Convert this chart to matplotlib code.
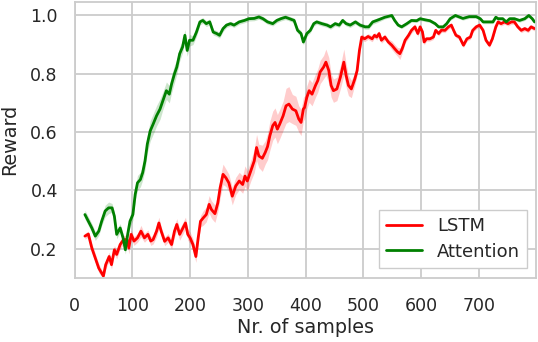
import numpy as np
import matplotlib
matplotlib.use("Agg")
import matplotlib.pyplot as plt
import seaborn as sns

sns.set_theme(style="whitegrid")
plt.rcParams['font.family'] = ['DejaVu Sans']

# ---- data ----
lstm_x = [18, 24, 30, 36, 42, 50, 54, 60, 64, 69, 73, 79, 85, 91, 94, 98, 103, 109, 115, 121,
          127, 132, 136, 142, 146, 150, 156, 162, 168, 173, 177, 182, 188, 192, 196, 200, 205, 210, 214, 218,
          223, 228, 233, 237, 243, 248, 252, 257, 262, 267, 273, 279, 285, 291, 295, 299, 305, 311, 315, 319,
          325, 330, 334, 338, 343, 347, 351, 355, 361, 366, 371, 377, 383, 388, 392, 396, 398, 402, 406, 411,
          417, 421, 425, 431, 435, 440, 444, 448, 454, 460, 466, 470, 474, 479, 485, 489, 493, 497, 502, 508,
          515, 519, 523, 527, 531, 537, 543, 549, 554, 559, 563, 567, 572, 578, 583, 589, 594, 598, 602, 605,
          609, 615, 621, 625, 630, 635, 641, 647, 652, 656, 660, 666, 673, 679, 685, 689, 695, 701, 707, 712,
          718, 723, 729, 733, 738, 744, 750, 756, 761, 767, 773, 779, 785, 790, 796]
lstm_y = [0.243, 0.250, 0.202, 0.168, 0.133, 0.106, 0.145, 0.173, 0.145, 0.196, 0.180, 0.214, 0.231, 0.231, 0.202, 0.249, 0.226, 0.237, 0.260, 0.237,
          0.249, 0.226, 0.231, 0.260, 0.288, 0.260, 0.225, 0.237, 0.214, 0.260, 0.283, 0.249, 0.272, 0.288, 0.249, 0.237, 0.214, 0.173, 0.237, 0.294,
          0.306, 0.317, 0.352, 0.334, 0.320, 0.357, 0.409, 0.455, 0.443, 0.426, 0.380, 0.415, 0.432, 0.420, 0.449, 0.432, 0.467, 0.501, 0.547, 0.518,
          0.510, 0.530, 0.550, 0.587, 0.622, 0.633, 0.610, 0.627, 0.656, 0.690, 0.696, 0.679, 0.673, 0.645, 0.633, 0.679, 0.684, 0.719, 0.742, 0.730,
          0.760, 0.777, 0.806, 0.823, 0.840, 0.811, 0.760, 0.742, 0.748, 0.788, 0.840, 0.794, 0.760, 0.748, 0.782, 0.811, 0.880, 0.926, 0.920, 0.928,
          0.920, 0.932, 0.926, 0.938, 0.915, 0.926, 0.909, 0.898, 0.886, 0.875, 0.869, 0.886, 0.915, 0.932, 0.949, 0.961, 0.938, 0.961, 0.944, 0.909,
          0.920, 0.920, 0.926, 0.949, 0.938, 0.950, 0.949, 0.961, 0.967, 0.949, 0.932, 0.926, 0.898, 0.920, 0.926, 0.949, 0.961, 0.967, 0.949, 0.915,
          0.898, 0.920, 0.961, 0.978, 0.972, 0.978, 0.972, 0.978, 0.978, 0.961, 0.949, 0.955, 0.949, 0.961, 0.955]
lstm_err = [0.01, 0.01, 0.015, 0.015, 0.015, 0.01, 0.015, 0.015, 0.015, 0.015, 0.015, 0.015, 0.015, 0.015, 0.02, 0.015, 0.015, 0.015, 0.02, 0.015,
            0.015, 0.015, 0.015, 0.02, 0.02, 0.015, 0.015, 0.015, 0.015, 0.02, 0.02, 0.02, 0.02, 0.02, 0.02, 0.02, 0.02, 0.02, 0.02, 0.02,
            0.025, 0.025, 0.03, 0.03, 0.03, 0.03, 0.035, 0.035, 0.03, 0.03, 0.03, 0.03, 0.03, 0.03, 0.035, 0.035, 0.035, 0.04, 0.045, 0.04,
            0.045, 0.04, 0.045, 0.05, 0.05, 0.05, 0.05, 0.05, 0.05, 0.06, 0.06, 0.05, 0.05, 0.045, 0.045, 0.04, 0.04, 0.04, 0.04, 0.04,
            0.04, 0.04, 0.04, 0.04, 0.045, 0.045, 0.04, 0.04, 0.04, 0.04, 0.045, 0.04, 0.035, 0.03, 0.02, 0.015, 0.015, 0.01, 0.01, 0.01,
            0.01, 0.01, 0.01, 0.01, 0.01, 0.01, 0.01, 0.015, 0.015, 0.015, 0.02, 0.015, 0.01, 0.01, 0.01, 0.01, 0.01, 0.01, 0.01, 0.01,
            0.008, 0.008, 0.008, 0.008, 0.008, 0.008, 0.008, 0.008, 0.008, 0.008, 0.008, 0.008, 0.008, 0.008, 0.008, 0.008, 0.008, 0.008, 0.008, 0.008,
            0.008, 0.008, 0.008, 0.008, 0.008, 0.008, 0.008, 0.008, 0.008, 0.008, 0.008, 0.008, 0.008, 0.008, 0.008]

att_x = [18, 24, 30, 36, 42, 47, 53, 59, 65, 69, 73, 79, 84, 88, 92, 96, 101, 105, 109, 114,
         118, 122, 126, 131, 136, 142, 148, 153, 159, 164, 168, 173, 177, 182, 187, 191, 195, 199, 205, 211,
         217, 222, 228, 234, 240, 246, 251, 257, 263, 270, 276, 285, 294, 302, 311, 319, 326, 334, 343, 350,
         357, 365, 372, 380, 386, 392, 396, 402, 408, 414, 419, 428, 437, 443, 451, 458, 464, 470, 477, 486,
         494, 503, 509, 516, 523, 537, 549, 554, 560, 566, 575, 583, 592, 598, 607, 615, 624, 630, 638, 644,
         650, 659, 672, 683, 695, 702, 707, 715, 724, 729, 733, 741, 747, 753, 761, 770, 779, 786, 792, 796]
att_y = [0.317, 0.294, 0.271, 0.243, 0.260, 0.294, 0.329, 0.340, 0.340, 0.311, 0.249, 0.271, 0.237, 0.196, 0.249, 0.294, 0.317, 0.386, 0.426, 0.437,
         0.461, 0.501, 0.559, 0.604, 0.627, 0.656, 0.679, 0.708, 0.742, 0.730, 0.765, 0.800, 0.823, 0.869, 0.892, 0.932, 0.880, 0.915, 0.915, 0.943,
         0.978, 0.983, 0.972, 0.978, 0.943, 0.938, 0.932, 0.955, 0.967, 0.972, 0.967, 0.978, 0.983, 0.989, 0.990, 0.995, 0.989, 0.978, 0.972, 0.983,
         0.989, 0.994, 0.989, 0.983, 0.949, 0.938, 0.909, 0.938, 0.949, 0.972, 0.978, 0.972, 0.967, 0.961, 0.972, 0.967, 0.983, 0.972, 0.967, 0.978,
         0.967, 0.961, 0.961, 0.978, 0.983, 0.994, 1.000, 0.983, 0.967, 0.961, 0.972, 0.983, 0.982, 0.989, 0.985, 0.982, 0.972, 0.961, 0.961, 0.972,
         0.989, 1.000, 0.990, 0.996, 0.996, 0.989, 0.978, 0.978, 0.978, 0.994, 0.989, 0.989, 0.978, 0.989, 0.989, 0.983, 0.989, 1.000, 0.989, 0.978]
att_err = [0.015, 0.015, 0.015, 0.015, 0.015, 0.015, 0.02, 0.02, 0.015, 0.015, 0.015, 0.015, 0.015, 0.015, 0.015, 0.02, 0.02, 0.02, 0.025, 0.025,
           0.025, 0.03, 0.03, 0.035, 0.035, 0.035, 0.035, 0.03, 0.03, 0.03, 0.03, 0.03, 0.025, 0.025, 0.02, 0.02, 0.02, 0.02, 0.015, 0.015,
           0.01, 0.01, 0.01, 0.01, 0.01, 0.01, 0.01, 0.01, 0.008, 0.008, 0.008, 0.008, 0.008, 0.008, 0.008, 0.008, 0.008, 0.008, 0.008, 0.008,
           0.008, 0.008, 0.008, 0.008, 0.01, 0.01, 0.01, 0.01, 0.008, 0.008, 0.008, 0.008, 0.008, 0.008, 0.008, 0.008, 0.008, 0.008, 0.008, 0.008,
           0.008, 0.008, 0.008, 0.008, 0.008, 0.006, 0.006, 0.006, 0.006, 0.006, 0.006, 0.006, 0.006, 0.006, 0.006, 0.006, 0.006, 0.006, 0.006, 0.006,
           0.006, 0.006, 0.006, 0.006, 0.006, 0.006, 0.006, 0.006, 0.006, 0.006, 0.006, 0.006, 0.006, 0.006, 0.006, 0.006, 0.006, 0.006, 0.006, 0.006]

series_names = ["LSTM", "Attention"]
series_colors = ["red", "green"]
x_ticks = [0, 100, 200, 300, 400, 500, 600, 700]
y_ticks = [0.2, 0.4, 0.6, 0.8, 1.0]

fig = plt.figure(figsize=(5.38, 3.42), dpi=100)
ax = fig.add_axes([74.5 / 538, 1 - 277.5 / 342, (535.7 - 74.5) / 538, (277.5 - 1.5) / 342])

for (xs, ys, es), name, col in zip([(lstm_x, lstm_y, lstm_err), (att_x, att_y, att_err)],
                                   series_names, series_colors):
    xs = np.array(xs); ys = np.array(ys); es = np.array(es)
    ax.fill_between(xs, ys - es, ys + es, color=col, alpha=0.2, linewidth=0)
    ax.plot(xs, ys, color=col, lw=2.0, label=name)

ax.set_xlim(0, 798)
ax.set_ylim(0.101, 1.048)
ax.set_xticks(x_ticks)
ax.set_yticks(y_ticks)
ax.tick_params(axis='x', labelsize=12.5, colors='.15', pad=8)
ax.tick_params(axis='y', labelsize=12.5, colors='.15', pad=6)
ax.set_xlabel("Nr. of samples", fontsize=13.8, color='.15', labelpad=2)
ax.set_ylabel("Reward", fontsize=13.8, color='.15', labelpad=8)
for s in ax.spines.values():
    s.set_color('.8')
    s.set_linewidth(1.3)
ax.grid(color='.8', linewidth=1.3)

leg = ax.legend(loc='lower right', fontsize=13, frameon=True, fancybox=False,
                edgecolor='.8', framealpha=1.0, handlelength=2.0, borderpad=0.42,
                labelspacing=0.4, borderaxespad=0.0, bbox_to_anchor=(0.982, 0.034))
for t in leg.get_texts():
    t.set_color('.15')

fig.savefig("out.png", dpi=100)
